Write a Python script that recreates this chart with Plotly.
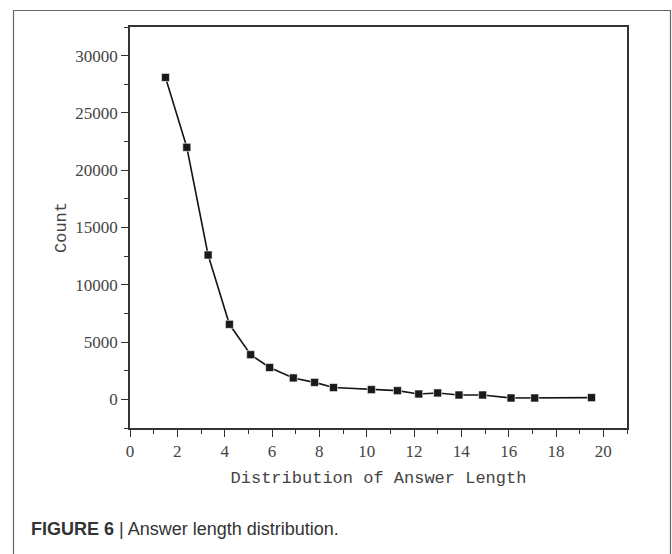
import plotly.graph_objects as go

answer_length = [1.5, 2.4, 3.3, 4.2, 5.1, 5.9, 6.9, 7.8, 8.6, 10.2, 11.3, 12.2, 13.0, 13.9, 14.9, 16.1, 17.1, 19.5]
counts = [28100, 22000, 12600, 6550, 3900, 2780, 1870, 1480, 1030, 850, 760, 470, 560, 380, 380, 120, 120, 150]

x_ticks = [0, 2, 4, 6, 8, 10, 12, 14, 16, 18, 20]
y_ticks = [0, 5000, 10000, 15000, 20000, 25000, 30000]
y_tick_labels = ["0", "5000", "10000", "15000", "20000", "25000", "30000"]

fig = go.Figure()
fig.add_trace(go.Scatter(
    x=answer_length, y=counts, mode="lines+markers",
    line=dict(color="#151515", width=1.6),
    marker=dict(symbol="square", size=8, color="#1a1a1a",
                line=dict(color="#ffffff", width=0.6)),
    showlegend=False,
))

axis_common = dict(
    showline=True, linecolor="#333333", linewidth=1.6, mirror=True,
    showgrid=False, zeroline=False,
    ticks="outside", ticklen=7, tickwidth=1.4, tickcolor="#333333",
    tickfont=dict(family="Liberation Serif", size=17, color="#444444"),
)

fig.update_xaxes(
    range=[0, 21], tickvals=x_ticks, ticktext=[str(v) for v in x_ticks],
    minor=dict(dtick=1, ticks="outside", ticklen=4, tickwidth=1.2, tickcolor="#333333"),
    title=dict(text="Distribution of Answer Length", standoff=11,
               font=dict(family="Liberation Mono", size=17, color="#444444")),
    **axis_common,
)
fig.update_yaxes(
    range=[-2500, 32500], tickvals=y_ticks, ticktext=y_tick_labels,
    minor=dict(dtick=2500, tick0=0, ticks="outside", ticklen=4, tickwidth=1.2, tickcolor="#333333"),
    title=dict(text="Count", standoff=4,
               font=dict(family="Liberation Mono", size=17, color="#444444")),
    **axis_common,
)

L, R, T, B = 130, 45, 27, 126
W, H = 672, 554
pw = W - L - R
ph = H - T - B

def px_x(px):
    return (px - L) / pw

def px_y(py):
    return 1 - (py - T) / ph

fig.add_shape(type="rect", xref="paper", yref="paper",
              x0=px_x(13.5), x1=px_x(670.5), y0=px_y(560), y1=px_y(10.5),
              line=dict(color="#666666", width=1.2), layer="below")

fig.add_annotation(
    xref="paper", yref="paper", x=px_x(29), y=px_y(529),
    xanchor="left", yanchor="middle", showarrow=False,
    text="<b>FIGURE 6</b> | Answer length distribution.",
    font=dict(family="Liberation Sans", size=18, color="#333333"),
)

fig.update_layout(
    width=W, height=H,
    margin=dict(l=L, r=R, t=T, b=B),
    paper_bgcolor="white", plot_bgcolor="white",
)

fig.write_html("out.html", config={"displayModeBar": False},
               post_script="document.body.style.margin='0';")
